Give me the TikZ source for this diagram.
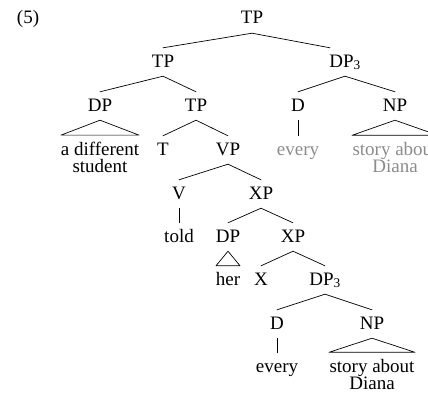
\documentclass[tikz,border=0pt]{standalone}
\usepackage{fontspec}
\setmainfont{Liberation Serif}
\usetikzlibrary{calc}
\definecolor{faded}{RGB}{140,140,140}
\begin{document}
\begin{tikzpicture}[x=1pt,y=-1pt,
  lbl/.style={anchor=base, inner xsep=1pt, inner ysep=5pt,
    text height=14pt, text depth=4pt, font=\fontsize{19}{17}\selectfont},
  leaf/.style={anchor=base, inner xsep=1pt, inner ysep=6.3pt,
    align=center, font=\fontsize{19}{17}\selectfont},
  ghost/.style={text=faded},
  branch/.style={line width=0.7pt, line cap=round, line join=round}]
\clip (0,0) rectangle (428,396);

% example number
\node[lbl] (ex) at (28,24) {(5)};

% labels, row by row (two-line leaves sit on the baseline of their last line)
\node[lbl] (tp0) at (252,24) {TP};
\node[lbl] (tp1) at (163,67) {TP};
\node[lbl] (dpq) at (345,67) {DP\textsubscript{3}};

\node[lbl] (dp1) at (100,111) {DP};
\node[lbl] (tp2) at (196,111) {TP};
\node[lbl] (d1)  at (298,111) {D};
\node[lbl] (np1) at (395,111) {NP};

\node[leaf] (subj) at (100,172) {a different\\student};
\node[lbl] (t)    at (163,155) {T};
\node[lbl] (vp)   at (228,155) {VP};
\node[lbl,ghost] (every1) at (298,155) {every};
\node[leaf,ghost] (story1) at (395,172) {story about\\Diana};

\node[lbl] (v)   at (179,199) {V};
\node[lbl] (xp1) at (261,199) {XP};

\node[lbl] (told) at (179,242) {told};
\node[lbl] (dp2)  at (228,242) {DP};
\node[lbl] (xp2)  at (293,242) {XP};

\node[lbl] (her) at (228,285) {her};
\node[lbl] (x)   at (261,285) {X};
\node[lbl] (dpr) at (325,285) {DP\textsubscript{3}};

\node[lbl] (d2)  at (277,329) {D};
\node[lbl] (np2) at (372,329) {NP};

\node[lbl]  (every2) at (277,372) {every};
\node[leaf] (story2) at (372,389) {story about\\Diana};

% branches
\draw[branch] (tp0.south) -- (tp1.north);
\draw[branch] (tp0.south) -- ($(dpq.north)+(-15,0)$);
\draw[branch] (tp1.south) -- (dp1.north);
\draw[branch] (tp1.south) -- (tp2.north);
\draw[branch] (dpq.south) -- (d1.north);
\draw[branch] (dpq.south) -- (np1.north);
\draw[branch] (tp2.south) -- (t.north);
\draw[branch] (tp2.south) -- (vp.north);
\draw[branch] (d1.south) -- (every1.north);
\draw[branch] (vp.south) -- (v.north);
\draw[branch] (vp.south) -- (xp1.north);
\draw[branch] (v.south) -- (told.north);
\draw[branch] (xp1.south) -- (dp2.north);
\draw[branch] (xp1.south) -- (xp2.north);
\draw[branch] (xp2.south) -- (x.north);
\draw[branch] (xp2.south) -- (dpr.north);
\draw[branch] (dpr.south) -- (d2.north);
\draw[branch] (dpr.south) -- (np2.north);
\draw[branch] (d2.south) -- (every2.north);

% roofs over unanalysed phrases
\draw[branch] (dp1.south) -- ($(subj.north)+(-39,0)$) -- ($(subj.north)+(39,0)$) -- cycle;
\draw[branch] (np1.south) -- ($(story1.north)+(-43,0)$) -- ($(story1.north)+(43,0)$) -- cycle;
\draw[branch] (dp2.south) -- ($(her.north)+(-12,0)$) -- ($(her.north)+(12,0)$) -- cycle;
\draw[branch] (np2.south) -- ($(story2.north)+(-43,0)$) -- ($(story2.north)+(43,0)$) -- cycle;
\end{tikzpicture}
\end{document}
